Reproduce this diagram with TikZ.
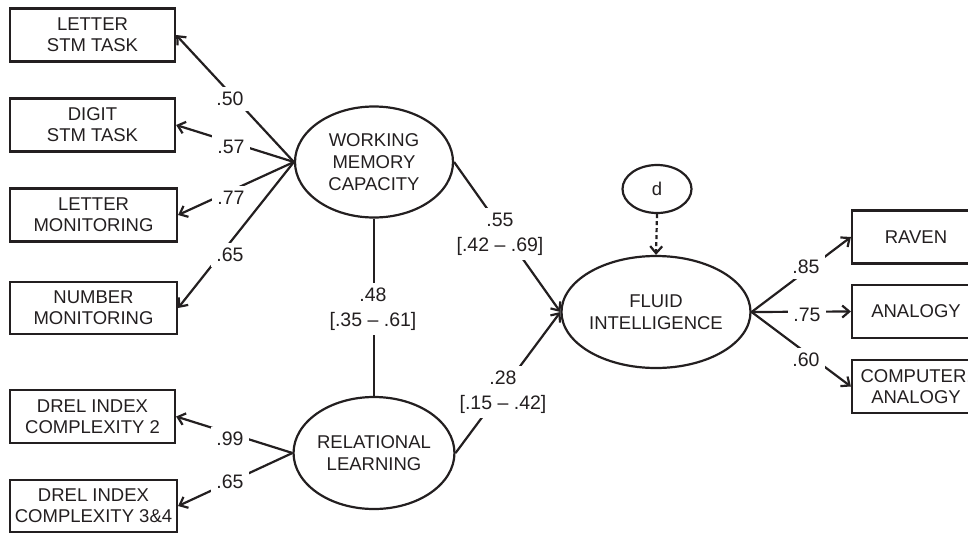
\documentclass[tikz,border=0pt]{standalone}
\usepackage{fontspec}
\setmainfont{Liberation Sans}
\usetikzlibrary{arrows.meta,shapes.geometric}
\definecolor{ink}{HTML}{231F20}
\begin{document}
\begin{tikzpicture}[x=1pt,y=-1pt,line width=2.2pt,draw=ink,text=ink,
  obs/.style={draw,rectangle,minimum height=53pt,inner sep=0pt,align=center,font=\fontsize{18.5}{21}\selectfont},
  lat/.style={draw,ellipse,inner sep=0pt,minimum width=158pt,minimum height=111pt,align=center,font=\fontsize{18.5}{22}\selectfont},
  lab/.style={fill=white,inner sep=5pt,align=center,font=\fontsize{19.5}{25}\selectfont},
  arr/.style={-{Straight Barb[length=7pt,width=12pt]}}]
\useasboundingbox (0,0) rectangle (968,533);
\clip (0,0) rectangle (968,533);
% observed, left
\node[obs,minimum width=165pt] (lstm) at (92.5,35) {LETTER\\STM TASK};
\node[obs,minimum width=165pt] (dstm) at (92.5,125) {DIGIT\\STM TASK};
\node[obs,minimum width=167pt] (lmon) at (93.5,215) {LETTER\\MONITORING};
\node[obs,minimum width=167pt,minimum height=52pt] (nmon) at (93.5,308) {NUMBER\\MONITORING};
\node[obs,minimum width=165pt] (drel2) at (92.5,416.5) {DREL INDEX\\COMPLEXITY 2};
\node[obs,minimum width=167pt,minimum height=52pt] (drel34) at (93.5,506) {DREL INDEX\\COMPLEXITY 3\&4};
% observed, right
\node[obs,minimum width=128pt] (raven) at (916,237) {RAVEN};
\node[obs,minimum width=128pt] (anal) at (916,311.5) {ANALOGY};
\node[obs,minimum width=128pt] (comp) at (916,386.5) {COMPUTER.\\ANALOGY};
% latent
\node[lat] (wmc) at (374,162) {WORKING\\MEMORY\\CAPACITY};
\node[lat,minimum height=112pt] (rl) at (374,453) {RELATIONAL\\LEARNING};
\node[lat,minimum height=112pt] (fi) at (656,312) {FLUID\\INTELLIGENCE};
\node[draw,ellipse,inner sep=0pt,minimum width=69pt,minimum height=48pt,font=\fontsize{18.5}{22}\selectfont] (d) at (657,189) {d};
% connectors
\draw[arr] (wmc.west) -- (lstm.east);
\draw[arr] (wmc.west) -- (dstm.east);
\draw[arr] (wmc.west) -- (lmon.east);
\draw[arr] (wmc.west) -- (nmon.east);
\draw[arr] (rl.west) -- (drel2.east);
\draw[arr] (rl.west) -- (drel34.east);
\draw (wmc.south) -- (rl.north);
\draw[arr] (wmc.east) -- (fi.west);
\draw[arr] (rl.east) -- (fi.west);
\draw[arr,dash pattern=on 4pt off 3pt] (d.south) -- (fi.north);
\draw[arr] (fi.east) -- (raven.west);
\draw[arr] (fi.east) -- (anal.west);
\draw[arr] (fi.east) -- (comp.west);
% labels
\node[lab] (l50) at (230,99) {.50};
\node[lab] (l57) at (231,147) {.57};
\node[lab] (l77) at (231,198) {.77};
\node[lab] (l65) at (230,255) {.65};
\node[lab] (l99) at (230,439) {.99};
\node[lab] (l65b) at (230,482) {.65};
\node[lab] (l48) at (373,309) {.48\\{[.35 -- .61]}};
\node[lab] (l55) at (500,234) {.55\\{[.42 -- .69]}};
\node[lab] (l28) at (503,392) {.28\\{[.15 -- .42]}};
\node[lab] (l85) at (806,267) {.85};
\node[lab] (l75) at (807,315) {.75};
\node[lab] (l60) at (806,360) {.60};
\end{tikzpicture}
\end{document}
